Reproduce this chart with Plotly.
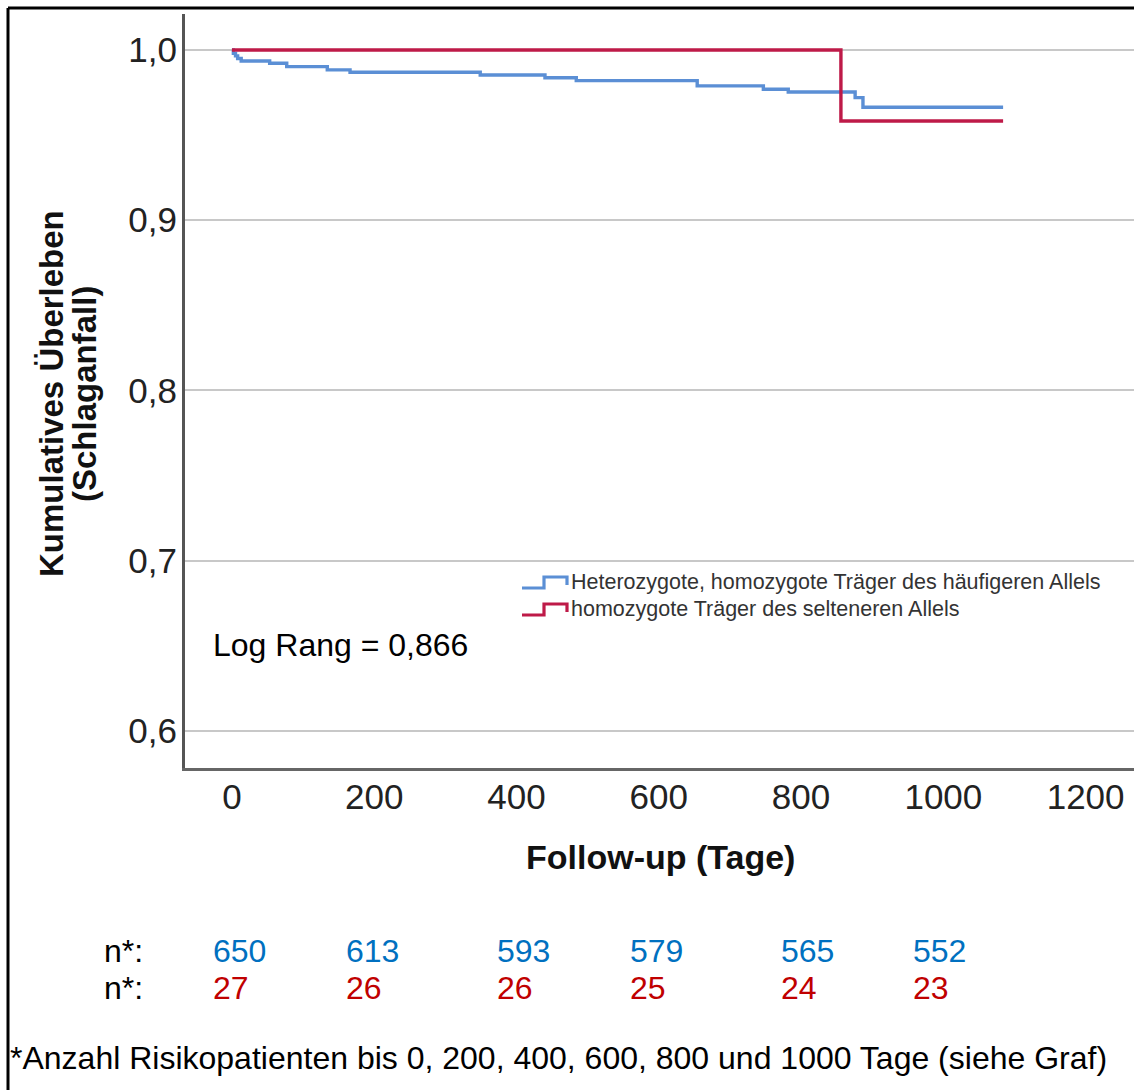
import plotly.graph_objects as go

# ---- data ----
blue_t = [0, 2, 5, 8, 13, 53, 77, 134, 166, 349, 440, 484, 654, 747, 782, 876, 887, 1084]
blue_s = [1.0, 0.998, 0.9965, 0.995, 0.9935, 0.9922, 0.9902, 0.9883, 0.9869, 0.9853,
          0.9837, 0.9820, 0.9789, 0.9769, 0.9753, 0.9720, 0.9663, 0.9663]
red_t = [0, 856, 1084]
red_s = [1.0, 0.9583, 0.9583]

name_blue = "Heterozygote, homozygote Träger des häufigeren Allels"
name_red = "homozygote Träger des selteneren Allels"

risk_blue = ["650", "613", "593", "579", "565", "552"]
risk_red = ["27", "26", "26", "25", "24", "23"]
risk_label = "n*:"

x_ticks = [0, 200, 400, 600, 800, 1000, 1200]
y_ticks = [0.6, 0.7, 0.8, 0.9, 1.0]

y_title_lines = ["Kumulatives Überleben", "(Schlaganfall)"]
x_title = "Follow-up (Tage)"
logrank_text = "Log Rang = 0,866"
footnote = "*Anzahl Risikopatienten bis 0, 200, 400, 600, 800 und 1000 Tage (siehe Graf)"

# ---- layout helpers ----
W, H = 1134, 1090
def px(x):
    return x / W
def py(y):
    return 1 - y / H

FONT = "Liberation Sans, Arial, sans-serif"
BLUE_LINE = "#5B8FD5"
RED_LINE = "#BE1A48"
BLUE_TXT = "#0070C0"
RED_TXT = "#C00000"

fig = go.Figure()
fig.add_trace(go.Scatter(x=blue_t, y=blue_s, mode="lines", line_shape="hv",
                         line=dict(color=BLUE_LINE, width=3.4), name=name_blue))
fig.add_trace(go.Scatter(x=red_t, y=red_s, mode="lines", line_shape="hv",
                         line=dict(color=RED_LINE, width=3.4), name=name_red))

annotations = []
# y axis title (two lines, rotated)
for xc, line in zip([52, 85], y_title_lines):
    annotations.append(dict(text="<b>" + line + "</b>", x=px(xc), y=py(394), xref="paper", yref="paper",
                            xanchor="center", yanchor="middle", showarrow=False, textangle=-90,
                            font=dict(family=FONT, size=33, color="#111")))
# x axis title
annotations.append(dict(text="<b>" + x_title + "</b>", x=px(660), y=py(857), xref="paper", yref="paper",
                        xanchor="center", yanchor="middle", showarrow=False,
                        font=dict(family=FONT, size=34, color="#111")))
annotations.append(dict(text=logrank_text, x=px(211), y=py(645), xref="paper", yref="paper",
                        xanchor="left", yanchor="middle", showarrow=False,
                        font=dict(family=FONT, size=32, color="#000")))
# custom legend
for ly, name in [(582, name_blue), (609, name_red)]:
    annotations.append(dict(text=name, x=px(569), y=py(ly), xref="paper", yref="paper",
                            xanchor="left", yanchor="middle", showarrow=False,
                            font=dict(family=FONT, size=21.5, color="#333")))
# at-risk table
risk_x = [211, 344, 495, 628, 779, 911]
for lbl_y, vals, col in [(951, risk_blue, BLUE_TXT), (988, risk_red, RED_TXT)]:
    annotations.append(dict(text=risk_label, x=px(102), y=py(lbl_y), xref="paper", yref="paper",
                            xanchor="left", yanchor="middle", showarrow=False,
                            font=dict(family=FONT, size=32, color="#000")))
    for xv, v in zip(risk_x, vals):
        annotations.append(dict(text=v, x=px(xv), y=py(lbl_y), xref="paper", yref="paper",
                                xanchor="left", yanchor="middle", showarrow=False,
                                font=dict(family=FONT, size=32, color=col)))
annotations.append(dict(text=footnote, x=px(8), y=py(1058), xref="paper", yref="paper",
                        xanchor="left", yanchor="middle", showarrow=False,
                        font=dict(family=FONT, size=32, color="#000")))

def glyph(y0, color):
    # step-shaped legend glyph, in paper coordinates
    pts = [(522, y0 + 6), (544, y0 + 6), (544, y0 - 5), (567, y0 - 5), (567, y0 + 3)]
    d = "M " + " L ".join(f"{px(a):.5f},{py(b):.5f}" for a, b in pts)
    return dict(type="path", xref="paper", yref="paper", path=d,
                line=dict(color=color, width=3.2))

shapes = [
    dict(type="line", xref="paper", yref="paper", x0=px(8), x1=1.0, y0=py(8), y1=py(8),
         line=dict(color="#000", width=3)),
    dict(type="line", xref="paper", yref="paper", x0=px(8), x1=px(8), y0=py(8), y1=0,
         line=dict(color="#000", width=3)),
    glyph(582, BLUE_LINE),
    glyph(609, RED_LINE),
]

fig.update_layout(
    width=W, height=H,
    margin=dict(l=0, r=0, t=0, b=0),
    paper_bgcolor="white", plot_bgcolor="white",
    separators=",.",
    font=dict(family=FONT, color="#222"),
    showlegend=False,
    annotations=annotations,
    shapes=shapes,
    xaxis=dict(domain=[px(185), 1.0], range=[-66, 1268], tickvals=x_ticks,
               showgrid=False, zeroline=False, showline=True, linecolor="#666", linewidth=3,
               ticks="", tickfont=dict(family=FONT, size=35, color="#222"),
               ticklabelstandoff=-4, automargin=False),
    yaxis=dict(domain=[py(768), py(14)], range=[0.5783, 1.0211], tickvals=y_ticks,
               tickformat=".1f",
               showgrid=True, gridcolor="#C8C8C8", gridwidth=1.5, zeroline=False,
               showline=True, linecolor="#555", linewidth=3,
               ticks="", tickfont=dict(family=FONT, size=35, color="#222"),
               ticklabelstandoff=-2, automargin=False),
)

fig.write_html("out.html")
